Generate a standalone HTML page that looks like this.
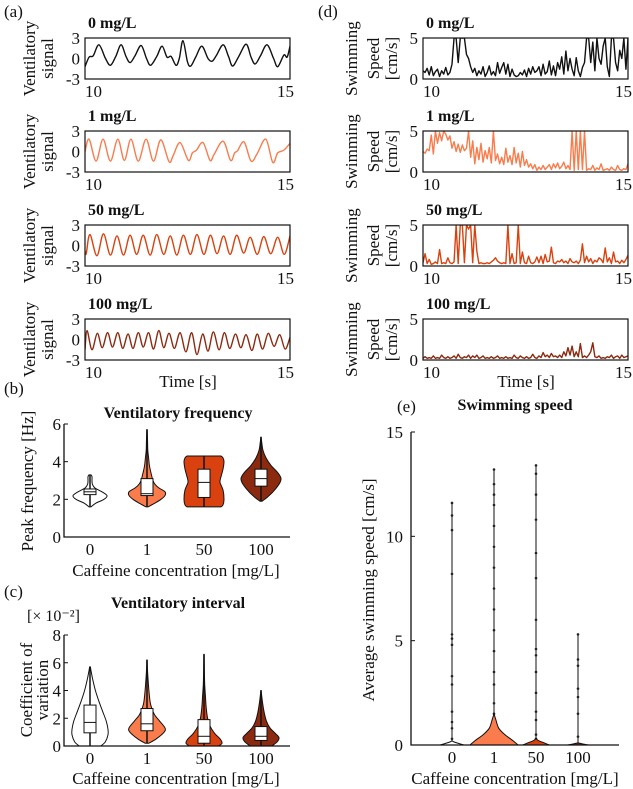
<!DOCTYPE html>
<html><head><meta charset="utf-8">
<style>
html,body{margin:0;padding:0;background:#fff;}
svg{display:block;font-family:"Liberation Serif","Times New Roman",serif;}
svg text{font-family:"Liberation Serif","Times New Roman",serif;}
</style></head>
<body>
<svg id="fig" width="633" height="789" viewBox="0 0 633 789" xmlns="http://www.w3.org/2000/svg"></svg>
<script>
// ---- Panel (a) ventilatory signal knots ----
const vt0=[10.0,10.1,10.2,10.34,10.5,10.62,10.75,10.88,11.0,11.1,11.22,11.37,11.5,11.6,11.75,11.88,12.0,12.1,12.22,12.3,12.39,12.5,12.58,12.7,12.85,13.0,13.1,13.2,13.37,13.5,13.6,13.75,13.93,14.05,14.15,14.28,14.44,14.6,14.7,14.85,14.93,15.0];
const vv0=[-1.2,0.2,0.4,2.0,0,-1.0,0.3,2.0,0.3,-0.6,0.4,1.9,0,-1.0,0.3,1.8,0.2,0.3,-1.0,0,2.6,-0.5,-1.1,0.2,1.8,0,-0.4,0.4,2.0,0.3,-1.1,0.3,2.1,0.2,-0.8,0.4,2.0,0,-1.2,0.5,0.2,1.8];
const vt1=[10.0,10.10,10.27,10.44,10.62,10.80,10.96,11.12,11.30,11.49,11.67,11.85,12.05,12.15,12.32,12.52,12.62,12.72,12.88,13.05,13.15,13.37,13.55,13.65,13.72,13.88,14.05,14.2,14.41,14.58,14.7,14.85,15.0];
const vv1=[0,1.8,-1.4,1.8,-1.4,1.8,-1.3,1.8,-1.4,1.8,-1.4,1.7,-1.5,-0.6,1.3,-1.3,-0.2,0.2,1.3,-1.3,-0.4,1.5,-1.3,-0.2,0.1,1.4,-1.4,-0.3,1.8,-1.6,-0.2,0.2,1.2];
const vt50=[10.0,10.03,10.12,10.29,10.45,10.62,10.78,10.94,11.10,11.26,11.42,11.59,11.75,11.92,12.08,12.24,12.40,12.57,12.73,12.90,13.06,13.22,13.38,13.54,13.70,13.87,14.03,14.2,14.36,14.53,14.70,14.86,15.0];
const vv50=[-0.8,-1.2,1.6,-1.5,1.7,-1.4,1.4,-1.4,1.5,-1.3,1.5,-1.4,1.6,-1.3,1.4,-1.4,1.5,-1.3,1.6,-1.3,1.5,-1.2,1.4,-1.3,1.5,-1.1,1.2,-1.3,1.3,-1.2,1.2,-1.3,1.4];
const vt100=[10.0,10.05,10.17,10.3,10.42,10.55,10.67,10.8,10.92,11.05,11.17,11.3,11.42,11.55,11.67,11.8,11.92,12.05,12.18,12.32,12.46,12.6,12.73,12.87,13.0,13.13,13.27,13.4,13.53,13.67,13.8,13.93,14.07,14.2,14.33,14.47,14.61,14.75,14.88,15.0];
const vv100=[-1.5,1.3,-1.5,0.9,-1.2,1.0,-1.1,1.0,-1.3,0.8,-1.3,1.0,-1.1,1.0,-1.4,1.3,-1.2,0.9,-1.3,1.0,-1.8,1.0,-2.2,0.8,-1.7,1.1,-1.5,1.0,-1.3,0.8,-1.2,0.7,-1.6,0.8,-1.4,0.9,-1.0,0.7,-1.4,0.3];
// ---- Panel (d) swimming speed (evenly sampled 10-15 s) ----
const sp0=[1.0,0.8,1.3,0.5,1.5,0.4,0.9,1.2,0.3,1.0,0.6,1.4,0.5,0.8,1.8,5,5,2,5,5,5,3,2.5,1.5,0.8,1.3,0.4,1.0,0.6,1.5,0.3,0.8,1.6,0.5,0.9,0.4,2.0,0.7,1.4,2.0,0.6,1.8,0.3,1.2,0.5,0.3,0.4,0.8,0.5,1.1,0.3,1.3,0.6,1.5,0.8,1.0,1.5,0.4,1.8,0.6,0.9,2.2,0.5,1.6,0.4,2.0,1.2,2.7,0.6,3.4,1.0,2.5,1.2,0.4,2.6,1.0,0.3,1.4,2.0,5,5,2,4.5,1.0,5,2.5,1.8,4,5,1.5,0.3,5,5,2,1.0,3.5,2.5,5,1.2,5];
const sp1=[2.5,2.3,2.8,2.6,4.5,2.2,5,3.5,4.8,3.8,5,4.6,3.9,4.4,2.9,3.7,2.5,3.4,2.4,3.3,2.6,2.9,5,1.8,3.8,1.0,3.0,1.5,3.5,1.2,2.6,1.6,3.0,1.1,5,1.4,2.2,1.0,1.8,0.9,2.9,1.2,2.0,0.9,3.0,1.1,2.3,0.6,2.5,0.8,1.5,0.6,1.0,0.4,0.9,0.2,0.6,0.3,0.8,0.3,0.6,0.9,0.3,1.0,0.5,1.1,0.4,0.7,1.2,0.4,0.8,0.3,5,0.2,5,0.3,5,0.3,5,0.2,0.4,0.3,0.8,0.2,0.5,0.3,1.0,0.2,0.3,0.4,0.2,0.6,0.3,0.2,0.8,0.3,0.2,0.4,0.3,1.0];
const sp50=[0.4,1.5,0.3,0.8,0.2,0.3,0.5,0.3,2.0,0.3,0.4,0.3,1.0,0.4,0.3,0.5,5,0.3,5,5,0.4,5,4.5,5,0.4,5,1.8,0.3,0.4,0.3,0.3,0.4,0.3,0.5,0.7,1.0,0.6,0.4,0.3,0.4,0.3,5,0.3,1.5,0.3,0.4,5,0.3,1.7,0.4,0.3,1.2,0.4,0.3,0.5,1.1,0.4,1.2,0.3,1.4,0.5,0.6,2.3,0.4,0.3,0.6,0.5,0.8,0.4,0.6,0.3,0.9,0.5,0.4,0.6,0.3,0.7,2.7,0.4,1.2,0.5,0.9,0.3,0.7,0.5,1.0,0.8,0.4,2.2,0.5,1.0,0.3,1.7,0.5,0.6,0.3,0.7,0.4,0.8,1.3];
const sp100=[0.2,0.4,0.2,0.3,0.2,0.5,0.2,0.3,0.2,0.6,0.3,0.2,0.4,0.2,0.3,0.5,0.2,0.7,0.3,0.2,0.4,0.3,0.6,0.2,0.5,0.3,0.6,0.2,0.3,0.5,0.2,0.3,0.2,0.4,0.2,0.3,0.5,0.2,0.3,0.2,0.4,0.2,0.3,0.2,0.6,0.3,0.2,0.5,0.3,0.2,0.4,0.2,0.3,0.7,0.3,0.2,0.5,0.3,0.9,0.4,0.6,0.3,0.8,0.4,0.5,0.3,0.6,0.3,1.0,0.5,1.5,0.6,1.7,0.4,1.0,0.4,2.0,0.3,0.5,0.3,0.6,1.0,2.1,0.4,0.3,0.5,0.2,0.3,0.2,0.4,0.3,0.6,0.2,0.4,0.5,0.2,0.6,0.3,0.4,0.5];
// ---- Panel (b) ventilatory frequency violins ----
const groups=["0","1","50","100"];
const bLev0=[1.6,1.8,2.0,2.2,2.4,2.6,2.8,3.0,3.2,3.3], bDen0=[0.05,0.3,0.7,0.85,0.6,0.25,0.12,0.1,0.1,0.05];
const bLev1=[1.6,1.8,2.0,2.2,2.4,2.6,2.8,3.0,3.4,3.8,4.2,4.6,5.0,5.4,5.7], bDen1=[0.05,0.4,0.7,0.9,0.9,0.6,0.4,0.3,0.2,0.12,0.08,0.04,0.03,0.02,0.01];
const bLev2=[1.6,1.7,2.0,2.5,2.9,3.2,3.6,4.0,4.2,4.3], bDen2=[0.85,0.95,1.0,0.95,0.8,0.85,0.95,1.0,0.95,0.85];
const bLev3=[1.9,2.1,2.4,2.8,3.1,3.4,3.8,4.2,4.6,5.0,5.3], bDen3=[0.05,0.3,0.6,0.9,1.0,0.85,0.5,0.25,0.1,0.04,0.01];
const bQ1=[2.25,2.2,2.1,2.7], bMed=[2.4,2.3,2.9,3.1], bQ3=[2.55,3.1,3.6,3.6], bMin=[1.6,1.6,1.6,1.9], bMax=[3.3,5.7,4.3,5.3];
// ---- Panel (c) ventilatory interval CV (x1e-2) ----
const cLev0=[0,0.3,0.8,1.2,1.8,2.5,3.2,4.0,4.8,5.4,5.7], cDen0=[0.6,0.85,1.0,1.0,0.9,0.7,0.5,0.3,0.15,0.06,0.02];
const cLev1=[0.2,0.5,1.0,1.3,1.8,2.3,3,3.8,4.6,5.4,6.2], cDen1=[0.1,0.5,0.95,1.0,0.7,0.4,0.2,0.12,0.07,0.03,0.01];
const cLev2=[0,0.2,0.5,0.9,1.4,2,2.8,3.6,4.4,5.5,6.6], cDen2=[0.8,1.0,0.9,0.6,0.35,0.2,0.12,0.08,0.04,0.02,0.01];
const cLev3=[0,0.3,0.6,0.9,1.3,1.8,2.4,3.0,3.6,4.0], cDen3=[0.6,0.9,1.0,0.8,0.5,0.3,0.18,0.1,0.04,0.01];
const cQ1=[0.95,1.1,0.2,0.4], cMed=[1.7,1.6,0.7,0.7], cQ3=[2.95,2.7,1.9,1.4], cMin=[0,0.2,0,0], cMax=[5.7,6.2,6.6,4.0];
// ---- Panel (e) average swimming speed ----
const eLev0=[0,0.05,0.1,0.15,0.2], eDen0=[0.5,0.35,0.2,0.08,0];
const eLev1=[0,0.2,0.5,0.8,1.2,1.5], eDen1=[1.0,0.8,0.45,0.2,0.08,0];
const eLev2=[0,0.1,0.2,0.3], eDen2=[0.55,0.35,0.12,0];
const eLev3=[0,0.05,0.1], eDen3=[0.45,0.2,0];
const eMax=[11.6,13.2,13.4,5.3];
const eDots0=[0.3,0.8,1.1,1.6,2.9,3.3,4.8,5.1,5.3,8.2,10.3,11.0,11.6];
const eDots1=[0.5,1.0,1.5,2.0,2.9,3.5,4.5,5.5,6.5,7.5,8.5,9.5,10.5,11.5,12.0,12.5,13.2];
const eDots2=[0.3,0.5,1.2,1.6,2.5,3.5,4.3,4.6,6,8,9.2,10.8,12,13,13.4];
const eDots3=[0.4,1.5,2.3,2.7,3.8,4.1,5.3];

const COL=["#ffffff","#fa7b4b","#d9420f","#8c2a10"];
const LINECOL=["#111111","#fa7b4b","#d9420f","#8c2a10"];
const NS="http://www.w3.org/2000/svg";
const svg=document.getElementById('fig');
const TICK=17;
function mk(tag,attrs,parent){const e=document.createElementNS(NS,tag);for(const k in attrs)e.setAttribute(k,attrs[k]);(parent||svg).appendChild(e);return e;}
function txt(s,x,y,opt,name){
  const e=mk('text',{x:x,y:y,'font-size':(opt&&opt.size)||16,'text-anchor':(opt&&opt.anchor)||'start','fill':'#111','font-family':'Liberation Serif, serif'});
  if(opt&&opt.bold)e.setAttribute('font-weight','bold');
  if(opt&&opt.rot)e.setAttribute('transform','rotate(-90 '+x+' '+y+')');
  e.textContent=s;
  
  
  return e;
}
function smoothPath(pts){
  let d='M'+pts[0][0].toFixed(2)+','+pts[0][1].toFixed(2);
  for(let i=0;i<pts.length-1;i++){
    const p0=pts[Math.max(0,i-1)],p1=pts[i],p2=pts[i+1],p3=pts[Math.min(pts.length-1,i+2)];
    const c1x=p1[0]+(p2[0]-p0[0])/6,c1y=p1[1]+(p2[1]-p0[1])/6;
    const c2x=p2[0]-(p3[0]-p1[0])/6,c2y=p2[1]-(p3[1]-p1[1])/6;
    d+=' C'+c1x.toFixed(2)+','+c1y.toFixed(2)+' '+c2x.toFixed(2)+','+c2y.toFixed(2)+' '+p2[0].toFixed(2)+','+p2[1].toFixed(2);
  }
  return d;
}
let clipId=0;
function tsPanel(L,T,W,H,ymin,ymax,yt,ts,vs,color,smooth,title,ylabels,ylx,name){
  const g=mk('g',{});
  
  
  const sx=t=>L+(t-10)/5*W, sy=v=>T+H-(v-ymin)/(ymax-ymin)*H;
  const cid='clip'+(clipId++);
  const cp=mk('clipPath',{id:cid},g); mk('rect',{x:L,y:T,width:W,height:H},cp);
  const pts=ts.map((t,i)=>[sx(t),sy(vs[i])]);
  const ln=mk('path',{d:smooth?smoothPath(pts):'M'+pts.map(p=>p[0].toFixed(2)+','+p[1].toFixed(2)).join(' L'),fill:'none',stroke:color,'stroke-width':1.4,'clip-path':'url(#'+cid+')','stroke-linejoin':'round'},g);
  
  
  const box=mk('rect',{x:L,y:T,width:W,height:H,fill:'none',stroke:'#111','stroke-width':1.2},g);
  
  
  yt.forEach(v=>{txt(String(v),L-5,sy(v)+6,{anchor:'end',size:TICK},'y-tick-label');});
  txt('10',L,T+H+18,{size:TICK},'x-tick-label');
  txt('15',L+W+4,T+H+18,{anchor:'end',size:TICK},'x-tick-label');
  txt(title,L+3,T-10,{bold:true,size:16},'panel-title');
  ylabels.forEach((s,i)=>txt(s,ylx[i],T+H/2,{anchor:'middle',rot:true,size:17},'y-axis-title'));
}
const tops=[38,131,225,319];
const vT=[vt0,vt1,vt50,vt100], vV=[vv0,vv1,vv50,vv100];
const titles=["0 mg/L","1 mg/L","50 mg/L","100 mg/L"];
for(let i=0;i<4;i++){
  tsPanel(85,tops[i],205,41,-3,3,[3,0,-3],vT[i],vV[i],LINECOL[i],true,titles[i],["Ventilatory","signal"],[35,53],'ventilatory-plot-'+groups[i]);
}
const SP=[sp0,sp1,sp50,sp100];
for(let i=0;i<4;i++){
  const ts=SP[i].map((v,k)=>10+k*5/(SP[i].length-1));
  tsPanel(423,tops[i],205,41,0,5,[5,0],ts,SP[i],LINECOL[i],false,titles[i],["Swimming","Speed","[cm/s]"],[357,379,397],'swimming-plot-'+groups[i]);
}
txt('Time [s]',188,387,{anchor:'middle',size:17},'x-axis-title');
txt('Time [s]',526,387,{anchor:'middle',size:17},'x-axis-title');
txt('(a)',4,17,{size:17},'panel-label-a');
txt('(d)',318,17,{size:17},'panel-label-d');

function violinPanel(cfg){
  const {L,R,B,T,ymin,ymax,ticks,xs,levs,dens,hw,q1,med,q3,mn,mx,boxHW,name,tickOff}=cfg;
  const g=mk('g',{});
  
  
  const sy=v=>B-(v-ymin)/(ymax-ymin)*(B-T);
  for(let i=0;i<4;i++){
    const cx=xs[i];
    const right=levs[i].map((l,k)=>[cx+dens[i][k]*hw,sy(l)]);
    const left=levs[i].map((l,k)=>[cx-dens[i][k]*hw,sy(l)]).reverse();
    let d=smoothPath(right);
    d+=' L'+left[0][0].toFixed(2)+','+left[0][1].toFixed(2)+smoothPath(left).replace(/^M[^C]*/,' ')+' Z';
    const v=mk('path',{d:d,fill:COL[i],stroke:'#111','stroke-width':1},g);
    
    
    const w=mk('line',{x1:cx,x2:cx,y1:sy(mn[i]),y2:sy(mx[i]),stroke:'#111','stroke-width':1.5},g);
    
    
    const b=mk('rect',{x:cx-boxHW,y:sy(q3[i]),width:2*boxHW,height:sy(q1[i])-sy(q3[i]),fill:'#fff',stroke:'#111','stroke-width':1},g);
    
    
    const m=mk('line',{x1:cx-boxHW,x2:cx+boxHW,y1:sy(med[i]),y2:sy(med[i]),stroke:'#111','stroke-width':1},g);
    
    
    txt(groups[i],cx,B+18,{anchor:'middle',size:TICK},'x-tick-label');
  }
  const ax=mk('path',{d:'M'+L+','+T+' L'+L+','+B+' L'+R+','+B,fill:'none',stroke:'#111','stroke-width':1.3},g);
  
  
  ticks.forEach(v=>{
    mk('line',{x1:L,x2:L+4,y1:sy(v),y2:sy(v),stroke:'#111','stroke-width':1},g);
    txt(String(v),L-tickOff,sy(v)+6,{anchor:'end',size:TICK},'y-tick-label');
  });
  return sy;
}
const xsL=[90,147,204,261];
violinPanel({L:64,R:290,B:537,T:424,ymin:0,ymax:6,ticks:[0,2,4,6],xs:xsL,levs:[bLev0,bLev1,bLev2,bLev3],dens:[bDen0,bDen1,bDen2,bDen3],hw:20,q1:bQ1,med:bMed,q3:bQ3,mn:bMin,mx:bMax,boxHW:6,name:'ventilatory-frequency-chart',tickOff:3});
txt('Ventilatory frequency',178,418,{anchor:'middle',bold:true,size:16},'chart-title');
txt('Peak frequency [Hz]',33,481,{anchor:'middle',rot:true,size:17},'y-axis-title');
txt('Caffeine concentration [mg/L]',176,576,{anchor:'middle',size:17},'x-axis-title');
txt('(b)',4,394,{size:17},'panel-label-b');

violinPanel({L:64,R:290,B:746,T:635,ymin:0,ymax:8,ticks:[0,2,4,6,8],xs:xsL,levs:[cLev0,cLev1,cLev2,cLev3],dens:[cDen0,cDen1,cDen2,cDen3],hw:18,q1:cQ1,med:cMed,q3:cQ3,mn:cMin,mx:cMax,boxHW:6,name:'ventilatory-interval-chart',tickOff:3});
txt('Ventilatory interval',178,608,{anchor:'middle',bold:true,size:16},'chart-title');
txt('[× 10\u207B\u00B2]',27,621,{size:16},'axis-multiplier');
txt('Coefficient of',32,690,{anchor:'middle',rot:true,size:17},'y-axis-title');
txt('variation',48,690,{anchor:'middle',rot:true,size:17},'y-axis-title');
txt('Caffeine concentration [mg/L]',176,784,{anchor:'middle',size:17},'x-axis-title');
txt('(c)',4,597,{size:17},'panel-label-c');

// panel e
(function(){
  const L=411,R=619,B=745,T=432,ymin=0,ymax=15;
  const xs=[452,494,536,578];
  const g=mk('g',{});
  
  
  const sy=v=>B-(v-ymin)/(ymax-ymin)*(B-T);
  const levs=[eLev0,eLev1,eLev2,eLev3], dens=[eDen0,eDen1,eDen2,eDen3], dots=[eDots0,eDots1,eDots2,eDots3];
  for(let i=0;i<4;i++){
    const cx=xs[i];
    const l=mk('line',{x1:cx,x2:cx,y1:sy(0),y2:sy(eMax[i]),stroke:'#111','stroke-width':1},g);
    
    
    dots[i].forEach(v=>{
      const c=mk('circle',{cx:cx,cy:sy(v),r:1.3,fill:'#222'},g);
      
      
    });
    const hw=24;
    const right=levs[i].map((lv,k)=>[cx+dens[i][k]*hw,sy(lv)]);
    const left=levs[i].map((lv,k)=>[cx-dens[i][k]*hw,sy(lv)]).reverse();
    let d=smoothPath(right)+' L'+left[0][0].toFixed(2)+','+left[0][1].toFixed(2)+smoothPath(left).replace(/^M[^C]*/,' ')+' Z';
    const v=mk('path',{d:d,fill:COL[i],stroke:'#111','stroke-width':1},g);
    
    
    txt(groups[i],cx,B+18,{anchor:'middle',size:TICK},'x-tick-label');
  }
  const ax=mk('path',{d:'M'+L+','+T+' L'+L+','+B+' L'+R+','+B,fill:'none',stroke:'#111','stroke-width':1.3},g);
  
  
  [0,5,10,15].forEach(v=>{
    mk('line',{x1:L,x2:L+4,y1:sy(v),y2:sy(v),stroke:'#111','stroke-width':1},g);
    txt(String(v),L-8,sy(v)+6,{anchor:'end',size:TICK},'y-tick-label');
  });
})();
txt('Swimming speed',515,410,{anchor:'middle',bold:true,size:16},'chart-title');
txt('Average swimming speed [cm/s]',374,590,{anchor:'middle',rot:true,size:17},'y-axis-title');
txt('Caffeine concentration [mg/L]',515,784,{anchor:'middle',size:17},'x-axis-title');
txt('(e)',397,412,{size:17},'panel-label-e');
</script>
</body></html>
